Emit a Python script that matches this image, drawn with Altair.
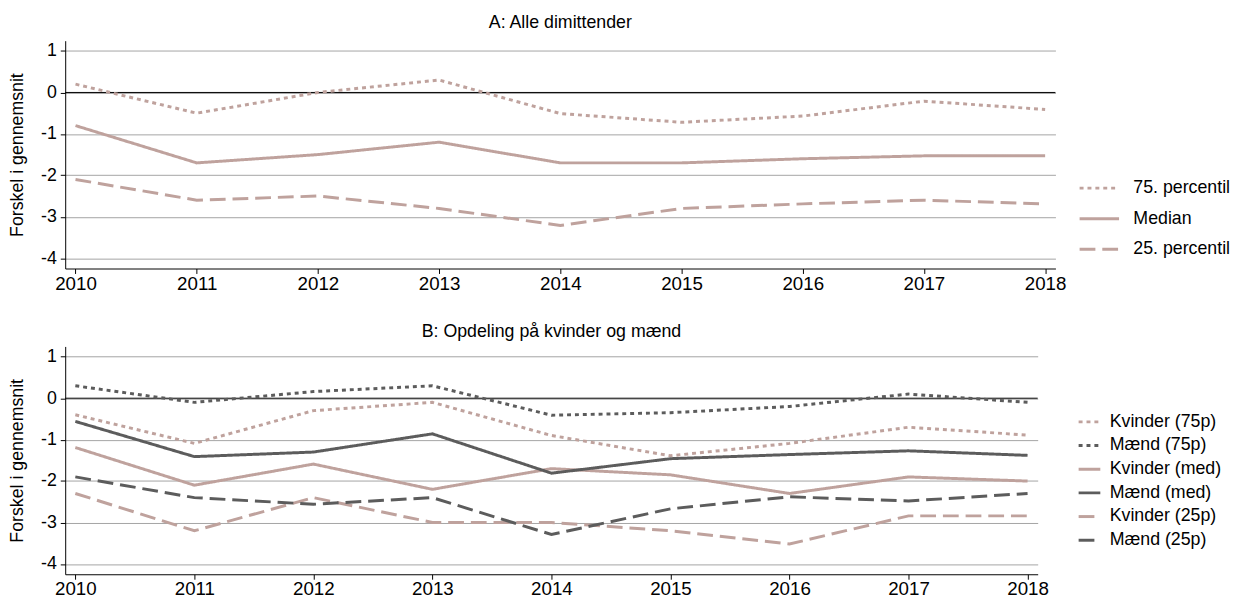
import altair as alt
import pandas as pd

years = [2010, 2011, 2012, 2013, 2014, 2015, 2016, 2017, 2018]

# Panel A: Alle dimittender
a_p75 = [0.2, -0.5, 0.0, 0.3, -0.51, -0.72, -0.57, -0.21, -0.41]
a_med = [-0.8, -1.7, -1.5, -1.2, -1.7, -1.7, -1.6, -1.53, -1.53]
a_p25 = [-2.1, -2.6, -2.5, -2.8, -3.21, -2.8, -2.69, -2.6, -2.69]
a_names = ["75. percentil", "Median", "25. percentil"]

# Panel B: Opdeling på kvinder og mænd
kv_p75 = [-0.4, -1.09, -0.3, -0.1, -0.9, -1.39, -1.09, -0.7, -0.89]
m_p75 = [0.3, -0.1, 0.16, 0.3, -0.41, -0.35, -0.2, 0.1, -0.1]
kv_med = [-1.19, -2.1, -1.59, -2.2, -1.7, -1.85, -2.3, -1.9, -2.0]
m_med = [-0.56, -1.41, -1.3, -0.86, -1.81, -1.46, -1.36, -1.27, -1.38]
kv_p25 = [-2.3, -3.2, -2.4, -3.0, -3.0, -3.2, -3.52, -2.84, -2.84]
m_p25 = [-1.9, -2.4, -2.56, -2.4, -3.29, -2.67, -2.38, -2.48, -2.3]
b_names = ["Kvinder (75p)", "Mænd (75p)", "Kvinder (med)", "Mænd (med)",
           "Kvinder (25p)", "Mænd (25p)"]

y_ticks = [-4, -3, -2, -1, 0, 1]
zero_line = [0]

PINK = "#bfa29d"
GRAY = "#5c5c5c"
DOT = [4, 4]
SOLID = [1, 0]
DASH = [16, 7]
FONT = "Liberation Sans"

rows = []
for name, vals in zip(a_names, [a_p75, a_med, a_p25]):
    for yr, v in zip(years, vals):
        rows.append({"year": yr, "value": v, "serie": name})
df_a = pd.DataFrame(rows)

rows = []
for name, vals in zip(b_names, [kv_p75, m_p75, kv_med, m_med, kv_p25, m_p25]):
    for yr, v in zip(years, vals):
        rows.append({"year": yr, "value": v, "gruppe": name})
df_b = pd.DataFrame(rows)

zero_df = pd.DataFrame({"y": zero_line})

x_scale = alt.Scale(domain=[2009.915, 2018.085], nice=False, zero=False)
y_scale = alt.Scale(domain=[-4.25, 1.25], nice=False, zero=False)


def x_enc():
    return alt.X("year:Q", scale=x_scale,
                 axis=alt.Axis(values=years, labelExpr="'' + datum.value", title=None,
                               grid=False, tickSize=5, labelPadding=1, labelFlush=False,
                               labelOverlap=False, labelFontSize=19))


def y_enc():
    return alt.Y("value:Q", scale=y_scale,
                 axis=alt.Axis(values=y_ticks, labelExpr="'' + datum.value",
                               title="Forskel i gennemsnit", grid=True,
                               gridColor="#a4a4a4", gridWidth=1, tickSize=5,
                               labelPadding=4, labelFontSize=18, titleFontSize=18,
                               titlePadding=14))


def zero_rule():
    return alt.Chart(zero_df).mark_rule(color="black", strokeWidth=1).encode(
        y=alt.Y("y:Q", scale=y_scale))


leg_a = alt.Legend(title=None, orient="none", legendX=1027, legendY=128,
                   symbolType="stroke", symbolStrokeWidth=3, symbolSize=1600,
                   labelFontSize=18, rowPadding=-1.5, labelOffset=13)
lines_a = alt.Chart(df_a).mark_line(strokeWidth=3).encode(
    x=x_enc(),
    y=y_enc(),
    color=alt.Color("serie:N", scale=alt.Scale(domain=a_names, range=[PINK, PINK, PINK]),
                    legend=leg_a),
    strokeDash=alt.StrokeDash("serie:N", scale=alt.Scale(domain=a_names, range=[DOT, SOLID, DASH]),
                              legend=leg_a),
)
panel_a = alt.layer(zero_rule(), lines_a).properties(
    width=1004, height=231,
    title=alt.TitleParams("A: Alle dimittender", fontSize=18, fontWeight="normal",
                          anchor="middle", offset=9, color="black"),
)

leg_b = alt.Legend(title=None, orient="none", legendX=1026, legendY=64,
                   symbolType="stroke", symbolStrokeWidth=3, symbolSize=484,
                   labelFontSize=18, rowPadding=2, labelOffset=8)
lines_b = alt.Chart(df_b).mark_line(strokeWidth=3).encode(
    x=x_enc(),
    y=y_enc(),
    color=alt.Color("gruppe:N", scale=alt.Scale(domain=b_names,
                                                range=[PINK, GRAY, PINK, GRAY, PINK, GRAY]),
                    legend=leg_b),
    strokeDash=alt.StrokeDash("gruppe:N", scale=alt.Scale(domain=b_names,
                                                          range=[DOT, DOT, SOLID, SOLID, DASH, DASH]),
                              legend=leg_b),
)
panel_b = alt.layer(zero_rule(), lines_b).properties(
    width=986, height=231,
    title=alt.TitleParams("B: Opdeling på kvinder og mænd", fontSize=18, fontWeight="normal",
                          anchor="middle", offset=6, color="black"),
)

chart = alt.vconcat(panel_a, panel_b, spacing=30).resolve_scale(
    color="independent", strokeDash="independent"
).configure(
    font=FONT,
    padding={"left": 0, "top": 2, "right": 0, "bottom": 0},
).configure_view(
    stroke=None
).configure_axis(
    domainColor="black", tickColor="black", labelColor="black", titleColor="black",
    labelFont=FONT, titleFont=FONT, titleFontWeight="normal", domainWidth=1,
).configure_legend(
    labelColor="black", labelFont=FONT,
).configure_title(
    font=FONT,
)

chart.save("out.html", embed_options={"renderer": "svg", "actions": False})
